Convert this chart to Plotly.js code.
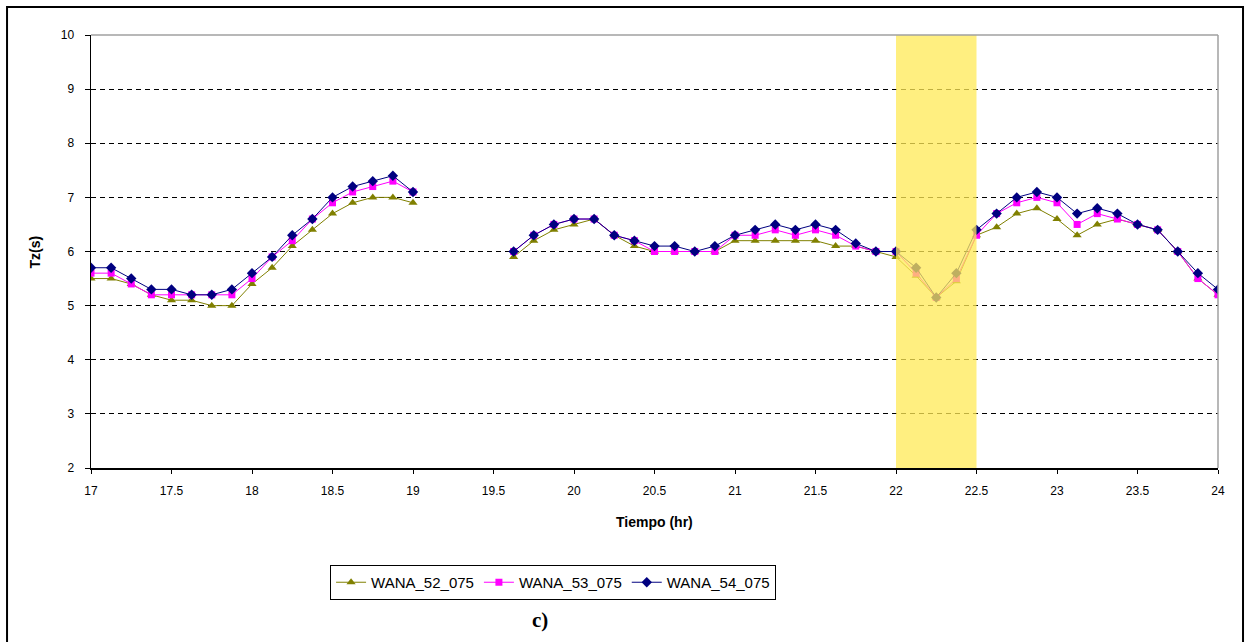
<!DOCTYPE html>
<html>
<head>
<meta charset="utf-8">
<script src="https://cdn.plot.ly/plotly-3.0.1.min.js"></script>
<style>html,body{margin:0;padding:0;background:#fff;}#chart{width:1248px;height:642px;}</style>
</head>
<body>
<div id="chart"></div>
<script>
var hours = [17, 17.125, 17.25, 17.375, 17.5, 17.625, 17.75, 17.875, 18, 18.125, 18.25, 18.375, 18.5, 18.625, 18.75, 18.875, 19,
  19.125, 19.25, 19.375, 19.5,
  19.625, 19.75, 19.875, 20, 20.125, 20.25, 20.375, 20.5, 20.625, 20.75, 20.875, 21, 21.125, 21.25, 21.375, 21.5, 21.625, 21.75, 21.875, 22,
  22.125, 22.25, 22.375, 22.5, 22.625, 22.75, 22.875, 23, 23.125, 23.25, 23.375, 23.5, 23.625, 23.75, 23.875, 24];

var wana52 = [5.5, 5.5, 5.4, 5.2, 5.1, 5.1, 5.0, 5.0, 5.4, 5.7, 6.1, 6.4, 6.7, 6.9, 7.0, 7.0, 6.9,
  null, null, null, null,
  5.9, 6.2, 6.4, 6.5, 6.6, 6.3, 6.1, 6.0, 6.0, 6.0, 6.0, 6.2, 6.2, 6.2, 6.2, 6.2, 6.1, 6.1, 6.0, 5.9,
  5.55, 5.15, 5.45, 6.3, 6.45, 6.7, 6.8, 6.6, 6.3, 6.5, 6.6, 6.5, 6.4, 6.0, 5.5, 5.2];

var wana53 = [5.6, 5.6, 5.4, 5.2, 5.2, 5.2, 5.2, 5.2, 5.5, 5.9, 6.2, 6.6, 6.9, 7.1, 7.2, 7.3, 7.1,
  null, null, null, null,
  6.0, 6.3, 6.5, 6.6, 6.6, 6.3, 6.2, 6.0, 6.0, 6.0, 6.0, 6.3, 6.3, 6.4, 6.3, 6.4, 6.3, 6.1, 6.0, 6.0,
  5.6, 5.15, 5.5, 6.3, 6.7, 6.9, 7.0, 6.9, 6.5, 6.7, 6.6, 6.5, 6.4, 6.0, 5.5, 5.2];

var wana54 = [5.7, 5.7, 5.5, 5.3, 5.3, 5.2, 5.2, 5.3, 5.6, 5.9, 6.3, 6.6, 7.0, 7.2, 7.3, 7.4, 7.1,
  null, null, null, null,
  6.0, 6.3, 6.5, 6.6, 6.6, 6.3, 6.2, 6.1, 6.1, 6.0, 6.1, 6.3, 6.4, 6.5, 6.4, 6.5, 6.4, 6.15, 6.0, 6.0,
  5.7, 5.15, 5.6, 6.4, 6.7, 7.0, 7.1, 7.0, 6.7, 6.8, 6.7, 6.5, 6.4, 6.0, 5.6, 5.3];

var seriesNames = ["WANA_52_075", "WANA_53_075", "WANA_54_075"];
var xTicks = [17, 17.5, 18, 18.5, 19, 19.5, 20, 20.5, 21, 21.5, 22, 22.5, 23, 23.5, 24];
var yTicks = [2, 3, 4, 5, 6, 7, 8, 9, 10];
var highlight = [22, 22.5];

var traces = [
  {x: hours, y: wana52, name: seriesNames[0], mode: "lines+markers", connectgaps: false,
   line: {color: "#808000", width: 1}, marker: {symbol: "triangle-up", size: 8, color: "#808000"}},
  {x: hours, y: wana53, name: seriesNames[1], mode: "lines+markers", connectgaps: false,
   line: {color: "#FF00FF", width: 1}, marker: {symbol: "square", size: 7, color: "#FF00FF"}},
  {x: hours, y: wana54, name: seriesNames[2], mode: "lines+markers", connectgaps: false,
   line: {color: "#000080", width: 1}, marker: {symbol: "diamond", size: 8, color: "#000080"}}
];

var layout = {
  width: 1248, height: 642,
  margin: {l: 91, r: 30, t: 35, b: 174},
  paper_bgcolor: "#ffffff", plot_bgcolor: "#ffffff",
  font: {family: "Liberation Sans, Arial, sans-serif", size: 12, color: "#000"},
  showlegend: true,
  legend: {orientation: "h", x: 0.41, xanchor: "center", y: -0.224, yanchor: "top",
    bordercolor: "#000", borderwidth: 1, font: {size: 15, family: "Liberation Sans, Arial, sans-serif"},
    itemwidth: 30, tracegroupgap: 0},
  xaxis: {range: [17, 24], tickvals: xTicks, ticktext: xTicks.map(String), showgrid: false, zeroline: false,
    showline: true, linecolor: "#000", linewidth: 1.5, ticks: "outside", ticklen: 4, tickcolor: "#000",
    ticklabelstandoff: 7},
  yaxis: {range: [2, 10], tickvals: yTicks, ticktext: yTicks.map(String), showgrid: true, gridcolor: "#000",
    griddash: "5px,4px", gridwidth: 1, zeroline: false,
    showline: true, linecolor: "#000", linewidth: 1.5, ticks: "outside", ticklen: 5, tickcolor: "#000",
    ticklabelstandoff: 8},
  shapes: [
    {type: "rect", xref: "x", yref: "paper", x0: highlight[0], x1: highlight[1], y0: 0, y1: 1,
     fillcolor: "#FFEA55", opacity: 0.75, line: {width: 0}, layer: "above"},
    {type: "line", xref: "paper", yref: "paper", x0: 0, x1: 1, y0: 1, y1: 1, line: {color: "#A0A0A0", width: 1.5}},
    {type: "line", xref: "paper", yref: "paper", x0: 1, x1: 1, y0: 0, y1: 1, line: {color: "#A0A0A0", width: 1.5}},
    {type: "rect", xref: "paper", yref: "paper", x0: -0.0745, x1: 1.0222, y0: -0.5, y1: 1.0647,
     line: {color: "#000", width: 2}, fillcolor: "rgba(0,0,0,0)", layer: "above"}
  ],
  annotations: [
    {text: "<b>Tz(s)</b>", xref: "paper", yref: "paper", x: -0.0497, y: 0.5, xanchor: "center", yanchor: "middle",
     textangle: -90, showarrow: false, font: {size: 14, family: "Liberation Sans, Arial, sans-serif"}},
    {text: "<b>Tiempo (hr)</b>", xref: "paper", yref: "paper", x: 0.5, y: -0.1247, xanchor: "center", yanchor: "middle",
     showarrow: false, font: {size: 14, family: "Liberation Sans, Arial, sans-serif"}},
    {text: "<b>c)</b>", xref: "paper", yref: "paper", x: 0.398, y: -0.351, xanchor: "center", yanchor: "middle",
     showarrow: false, font: {size: 21, family: "Liberation Serif, Times New Roman, serif"}}
  ]
};

Plotly.newPlot("chart", traces, layout, {displayModeBar: false, staticPlot: true});
</script>
</body>
</html>
